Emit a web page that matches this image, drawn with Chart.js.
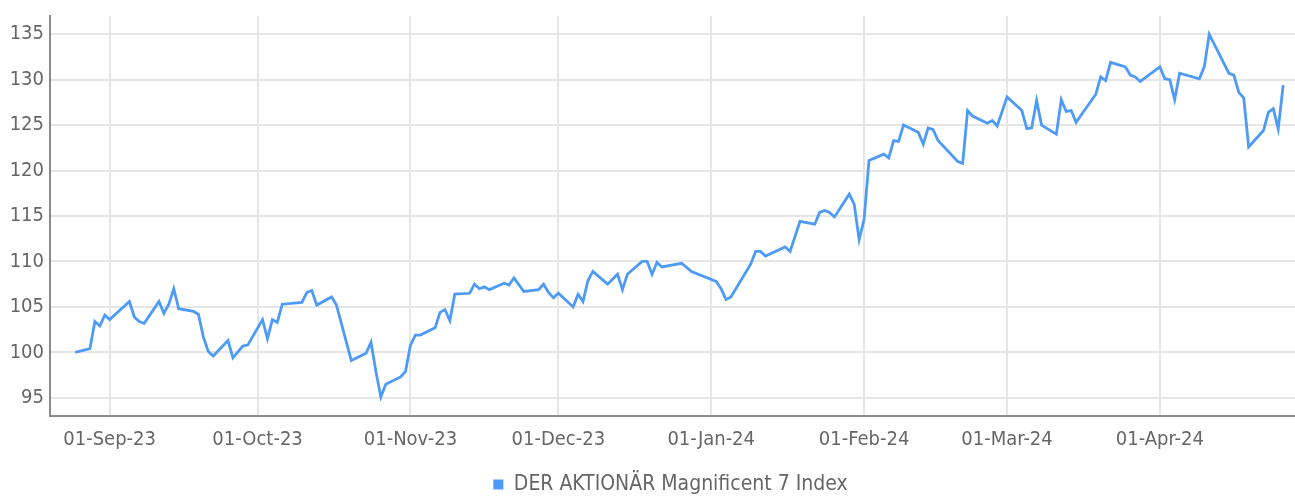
<!DOCTYPE html>
<html>
<head>
<meta charset="utf-8">
<script src="https://cdn.jsdelivr.net/npm/chart.js@4.4.1/dist/chart.umd.min.js"></script>
<style>
  html, body { margin: 0; padding: 0; background: #fff; }
  #wrap { width: 1295px; height: 497px; }
</style>
</head>
<body>
<div id="wrap"><canvas id="chart" width="1295" height="497"></canvas></div>
<script>
// index level (trading days where the line bends)
var seriesName = "DER AKTIONÄR Magnificent 7 Index";

var dates = [
  "2023-08-25","2023-08-28","2023-08-29","2023-08-30","2023-08-31",
  "2023-09-01","2023-09-05","2023-09-06","2023-09-07","2023-09-08","2023-09-11","2023-09-12","2023-09-13","2023-09-14","2023-09-15",
  "2023-09-18","2023-09-19","2023-09-20","2023-09-21","2023-09-22","2023-09-25","2023-09-26","2023-09-28","2023-09-29",
  "2023-10-02","2023-10-03","2023-10-04","2023-10-05","2023-10-06","2023-10-10","2023-10-11","2023-10-12","2023-10-13",
  "2023-10-16","2023-10-17","2023-10-20","2023-10-23","2023-10-24","2023-10-25","2023-10-26","2023-10-27","2023-10-30","2023-10-31",
  "2023-11-01","2023-11-02","2023-11-03","2023-11-06","2023-11-07","2023-11-08","2023-11-09","2023-11-10","2023-11-13","2023-11-14",
  "2023-11-15","2023-11-16","2023-11-17","2023-11-20","2023-11-21","2023-11-22","2023-11-24","2023-11-27","2023-11-28","2023-11-29","2023-11-30",
  "2023-12-01","2023-12-04","2023-12-05","2023-12-06","2023-12-07","2023-12-08","2023-12-11","2023-12-13","2023-12-14","2023-12-15",
  "2023-12-18","2023-12-19","2023-12-20","2023-12-21","2023-12-22","2023-12-26","2023-12-28",
  "2024-01-02","2024-01-03","2024-01-04","2024-01-05","2024-01-09","2024-01-10","2024-01-11","2024-01-12","2024-01-16","2024-01-17",
  "2024-01-19","2024-01-22","2024-01-23","2024-01-24","2024-01-25","2024-01-26","2024-01-29","2024-01-30","2024-01-31",
  "2024-02-01","2024-02-02","2024-02-05","2024-02-06","2024-02-07","2024-02-08","2024-02-09","2024-02-12","2024-02-13","2024-02-14",
  "2024-02-15","2024-02-16","2024-02-20","2024-02-21","2024-02-22","2024-02-23","2024-02-26","2024-02-27","2024-02-28",
  "2024-03-01","2024-03-04","2024-03-05","2024-03-06","2024-03-07","2024-03-08","2024-03-11","2024-03-12","2024-03-13","2024-03-14",
  "2024-03-15","2024-03-19","2024-03-20","2024-03-21","2024-03-22","2024-03-25","2024-03-26","2024-03-27","2024-03-28",
  "2024-04-01","2024-04-02","2024-04-03","2024-04-04","2024-04-05","2024-04-09","2024-04-10","2024-04-11","2024-04-15","2024-04-16",
  "2024-04-17","2024-04-18","2024-04-19","2024-04-22","2024-04-23","2024-04-24","2024-04-25","2024-04-26"
];

var values = [
  100.0, 100.4, 103.4, 102.9, 104.1,
  103.6, 105.6, 103.9, 103.4, 103.2, 105.6, 104.3, 105.3, 107.0, 104.8,
  104.5, 104.2, 101.7, 100.1, 99.6, 101.3, 99.4, 100.7, 100.8,
  103.6, 101.5, 103.6, 103.3, 105.3, 105.5, 106.6, 106.8, 105.2,
  106.1, 105.2, 99.1, 99.9, 101.1, 97.9, 95.1, 96.5, 97.3, 97.9,
  100.8, 101.9, 101.9, 102.7, 104.4, 104.7, 103.5, 106.4, 106.5, 107.5,
  107.0, 107.2, 106.9, 107.6, 107.4, 108.2, 106.7, 106.9, 107.5, 106.6, 106.0,
  106.5, 105.0, 106.4, 105.6, 107.9, 108.9, 107.5, 108.6, 106.9, 108.6,
  110.0, 110.0, 108.6, 109.9, 109.4, 109.8, 108.9,
  107.8, 107.0, 105.8, 106.1, 109.7, 111.1, 111.1, 110.6, 111.6, 111.1,
  114.4, 114.1, 115.4, 115.6, 115.4, 114.9, 117.4, 116.3, 112.4,
  114.6, 121.1, 121.8, 121.4, 123.3, 123.2, 125.0, 124.2, 122.9, 124.7,
  124.5, 123.3, 121.0, 120.8, 126.6, 126.0, 125.2, 125.5, 124.9,
  128.1, 126.6, 124.6, 124.7, 127.7, 125.0, 124.0, 127.8, 126.5, 126.6,
  125.3, 128.4, 130.3, 129.9, 131.9, 131.4, 130.5, 130.3, 129.8,
  131.4, 130.1, 130.0, 127.8, 130.7, 130.1, 131.4, 135.0, 130.7, 130.5,
  128.6, 128.0, 122.6, 124.4, 126.4, 126.8, 124.6, 129.4
];

var tickDates = ["2023-09-01","2023-10-01","2023-11-01","2023-12-01","2024-01-01","2024-02-01","2024-03-01","2024-04-01"];
var tickLabels = ["01-Sep-23","01-Oct-23","01-Nov-23","01-Dec-23","01-Jan-24","01-Feb-24","01-Mar-24","01-Apr-24"];

function dayNum(s) {
  var p = s.split("-");
  return Date.UTC(+p[0], +p[1] - 1, +p[2]) / 86400000;
}

var points = [];
for (var i = 0; i < dates.length; i++) {
  points.push({ x: dayNum(dates[i]), y: values[i] });
}
var tickValues = tickDates.map(dayNum);

var fontFamily = "'Liberation Sans Narrow', 'DejaVu Sans Condensed', 'Roboto', sans-serif";
var lineColor = "#4d9bf6";

// nudge the legend to sit under the plot centre like the original
var legendNudge = {
  id: "legendNudge",
  afterLayout: function (chart) {
    var lg = chart.legend;
    lg.left += 23; lg.right += 23;
    lg.top += 8; lg.bottom += 8;
  }
};

var ctx = document.getElementById("chart");
var myChart = new Chart(ctx, {
  type: "line",
  data: {
    datasets: [{
      label: seriesName,
      data: points,
      borderColor: lineColor,
      backgroundColor: lineColor,
      borderWidth: 2.8,
      pointRadius: 0,
      tension: 0,
      fill: false
    }]
  },
  options: {
    responsive: false,
    animation: false,
    layout: { padding: { top: 16, right: 0, left: 0, bottom: 0 } },
    plugins: {
      tooltip: { enabled: false },
      legend: {
        position: "bottom",
        labels: {
          boxWidth: 10,
          boxHeight: 10,
          padding: 6,
          color: "#666",
          font: { family: fontFamily, size: 21 },
          generateLabels: function (chart) {
            var items = Chart.defaults.plugins.legend.labels.generateLabels(chart);
            items.forEach(function (it) { it.lineWidth = 0; });
            return items;
          }
        }
      }
    },
    scales: {
      x: {
        type: "linear",
        min: dayNum("2023-09-01") - 12.1,
        max: dayNum("2024-04-01") + 27.4,
        afterBuildTicks: function (scale) {
          scale.ticks = tickValues.map(function (v) { return { value: v }; });
        },
        afterFit: function (scale) {
          scale.height = 81 - scale.chart.legend.height;
        },
        ticks: {
          padding: 12,
          maxRotation: 0,
          autoSkip: false,
          color: "#666",
          font: { family: fontFamily, size: 20 },
          callback: function (value, index) { return tickLabels[index]; }
        },
        grid: { color: "#e6e6e6", lineWidth: 2, drawTicks: false },
        border: { color: "#8c8c8c", width: 2 }
      },
      y: {
        min: 93,
        max: 137,
        afterFit: function (scale) {
          scale.width = 50;
          scale.paddingTop = 0;
          scale.paddingBottom = 0;
        },
        ticks: {
          stepSize: 5,
          includeBounds: false,
          padding: 6,
          color: "#666",
          font: { family: fontFamily, size: 20 }
        },
        grid: { color: "#e6e6e6", lineWidth: 2, drawTicks: false },
        border: { color: "#8c8c8c", width: 2 }
      }
    }
  },
  plugins: [legendNudge]
});
</script>
</body>
</html>
